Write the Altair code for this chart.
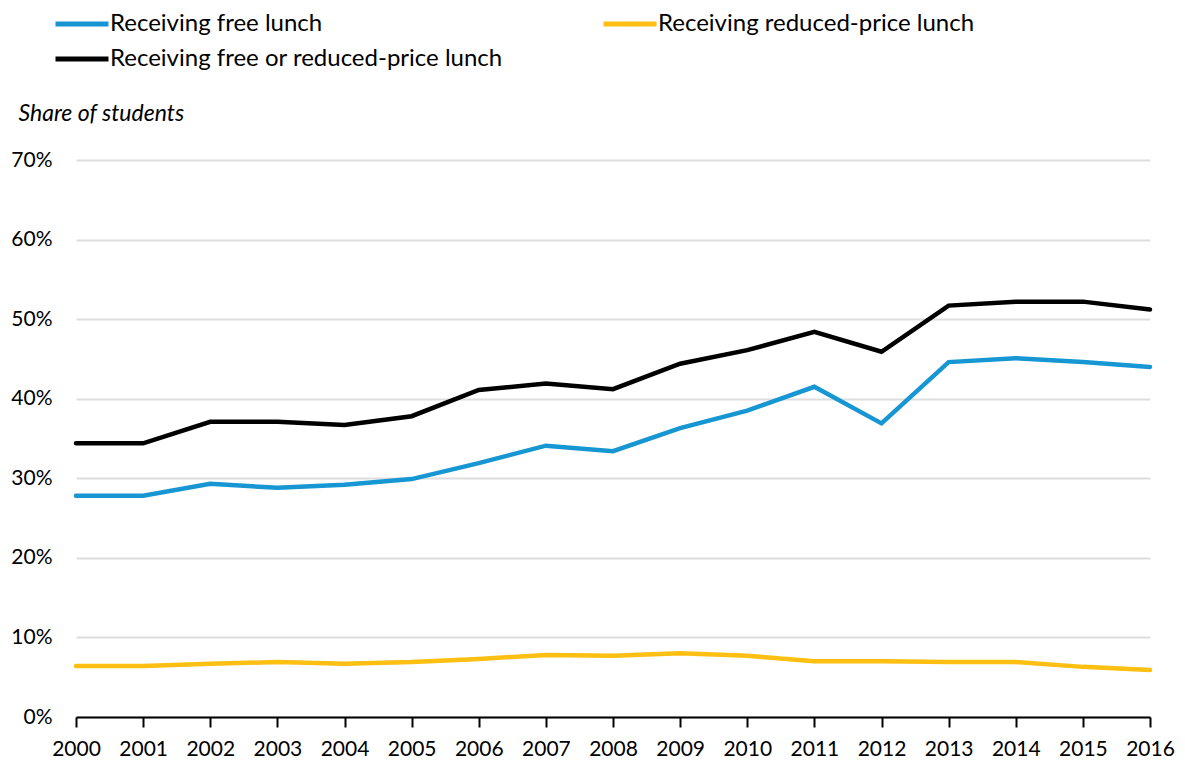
import altair as alt
import pandas as pd

years = list(range(2000, 2017))
free_lunch = [27.8, 27.8, 29.3, 28.8, 29.2, 29.9, 31.9, 34.1, 33.4, 36.3, 38.5, 41.5, 36.9, 44.6, 45.1, 44.6, 44.0]
reduced_lunch = [6.4, 6.4, 6.7, 6.9, 6.7, 6.9, 7.3, 7.8, 7.7, 8.0, 7.7, 7.0, 7.0, 6.9, 6.9, 6.3, 5.9]
free_or_reduced = [34.4, 34.4, 37.1, 37.1, 36.7, 37.8, 41.1, 41.9, 41.2, 44.4, 46.1, 48.4, 45.9, 51.7, 52.2, 52.2, 51.2]

series_names = ["Receiving free lunch", "Receiving reduced-price lunch", "Receiving free or reduced-price lunch"]
series_colors = ["#1696d2", "#fdbf11", "#000000"]

rows = []
for name, vals in zip(series_names, [free_lunch, reduced_lunch, free_or_reduced]):
    for y, v in zip(years, vals):
        rows.append({"year": y, "value": v / 100, "series": name})
df = pd.DataFrame(rows)

FONT = "Lato"

chart = alt.Chart(df).mark_line(strokeWidth=4.5, strokeCap="round", strokeJoin="miter").encode(
    x=alt.X("year:Q",
            scale=alt.Scale(domain=[2000, 2016], nice=False, zero=False),
            axis=alt.Axis(values=years, format="d", title=None, grid=False,
                          domainColor="#000000", domainWidth=2,
                          tickColor="#000000", tickWidth=2, tickSize=10,
                          labelFontSize=21, labelColor="#000000", labelPadding=11,
                          labelFont=FONT, labelOverlap=False, labelFlush=False)),
    y=alt.Y("value:Q",
            scale=alt.Scale(domain=[0, 0.7], nice=False),
            axis=alt.Axis(values=[0, 0.1, 0.2, 0.3, 0.4, 0.5, 0.6, 0.7], format=".0%",
                          title="Share of students", titleAngle=0, titleAlign="left",
                          titleBaseline="middle", titleX=-58, titleY=-47,
                          titleFont=FONT, titleFontStyle="italic", titleFontWeight="normal",
                          titleFontSize=23, titleColor="#000000",
                          domain=False, ticks=False, grid=True,
                          gridColor="#dedede", gridWidth=2,
                          labelFontSize=21, labelColor="#000000", labelPadding=24,
                          labelFont=FONT)),
    color=alt.Color("series:N",
                    scale=alt.Scale(domain=series_names, range=series_colors),
                    sort=series_names,
                    legend=alt.Legend(title=None, orient="none", legendX=-10, legendY=-152,
                                      columns=2, direction="horizontal",
                                      symbolType="M-2,0H2", symbolSize=702, symbolStrokeWidth=5,
                                      labelFontSize=24, labelFont=FONT, labelColor="#000000",
                                      labelOffset=12, columnPadding=90, rowPadding=7,
                                      padding=0, labelLimit=600)),
).properties(
    width=1074, height=557,
    autosize="none",
    padding={"left": 68, "top": 152, "right": 27, "bottom": 50},
).configure(font=FONT, view=alt.ViewConfig(stroke=None))

chart.save("out.html", embed_options={"renderer": "svg", "actions": False})
